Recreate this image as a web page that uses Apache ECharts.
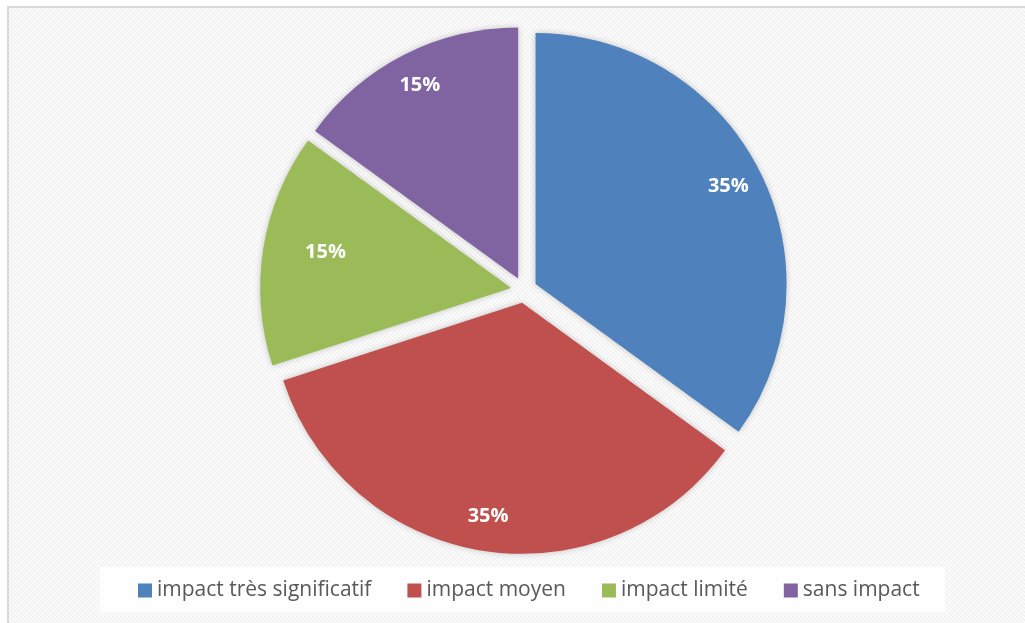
<!DOCTYPE html>
<html>
<head>
<meta charset="utf-8">
<script src="https://cdn.jsdelivr.net/npm/echarts@6/dist/echarts.min.js"></script>
<style>
  html, body { margin: 0; padding: 0; background: #ffffff; }
  #chart { width: 1025px; height: 623px; }
</style>
</head>
<body>
<div id="chart"></div>
<script>
// Categories and their shares (percent)
const categories = ['impact très significatif', 'impact moyen', 'impact limité', 'sans impact'];
const shares = [35, 35, 15, 15];
const sliceColors = ['#4F81BD', '#C0504D', '#9BBB59', '#8064A2'];

// Diagonal hatch used as the chart-area fill
function makeHatch() {
  const c = document.createElement('canvas');
  c.width = 8; c.height = 8;
  const ctx = c.getContext('2d');
  const img = ctx.createImageData(8, 8);
  for (let y = 0; y < 8; y++) {
    for (let x = 0; x < 8; x++) {
      const k = (((x - y) % 4) + 4) % 4;
      const v = k < 2 ? 241 : 253;
      const i = (y * 8 + x) * 4;
      img.data[i] = v; img.data[i + 1] = v; img.data[i + 2] = v; img.data[i + 3] = 255;
    }
  }
  ctx.putImageData(img, 0, 0);
  return c;
}

const chart = echarts.init(document.getElementById('chart'), null, { renderer: 'canvas' });

const R = 251;
const pieCenter = [524, 290];
const explode = 13;

const sliceData = categories.map((name, i) => ({
  name: name,
  value: shares[i],
  selected: true,
  itemStyle: { color: sliceColors[i] }
}));

const labelData = categories.map((name, i) => ({
  name: name,
  value: shares[i],
  selected: true
}));

// the narrow green slice keeps its label nearer the middle of the slice
const labelNudge = { 'impact limité': { dx: 28, dy: -2 } };

chart.setOption({
  backgroundColor: '#ffffff',
  animation: false,
  graphic: [
    {
      type: 'rect',
      z: -10,
      silent: true,
      shape: { x: 8, y: 7, width: 1030, height: 630 },
      style: {
        fill: { image: makeHatch(), repeat: 'repeat' },
        stroke: '#d9d9d9',
        lineWidth: 2
      }
    },
    {
      type: 'rect',
      z: -5,
      silent: true,
      shape: { x: 100, y: 567, width: 845, height: 45 },
      style: { fill: 'rgba(255,255,255,0.8)' }
    }
  ],
  legend: {
    data: categories,
    left: 133,
    top: 575,
    itemWidth: 14,
    itemHeight: 14,
    itemGap: 36,
    icon: 'rect',
    selectedMode: false,
    textStyle: { fontFamily: 'Open Sans', fontSize: 21, color: '#595959' }
  },
  series: [
    {
      type: 'pie',
      z: 2,
      center: pieCenter,
      radius: [0, R],
      startAngle: 90,
      clockwise: true,
      selectedMode: 'multiple',
      selectedOffset: explode,
      label: { show: false },
      labelLine: { show: false },
      emphasis: { scale: false },
      itemStyle: {
        shadowBlur: 6,
        shadowColor: 'rgba(0,0,0,0.22)'
      },
      data: sliceData
    },
    {
      // transparent ring that only carries the percentage labels
      type: 'pie',
      z: 5,
      silent: true,
      center: pieCenter,
      radius: [R * 0.7, R],
      startAngle: 90,
      clockwise: true,
      selectedMode: 'multiple',
      selectedOffset: explode,
      avoidLabelOverlap: false,
      itemStyle: { color: 'rgba(255,255,255,0)' },
      emphasis: { scale: false },
      labelLine: { show: false },
      label: {
        show: true,
        position: 'inside',
        formatter: '{c}%',
        color: '#ffffff',
        fontFamily: 'Open Sans',
        fontWeight: 'bold',
        fontSize: 20
      },
      labelLayout: function (params) {
        const name = categories[params.dataIndex];
        return labelNudge[name] || {};
      },
      data: labelData
    }
  ]
});
</script>
</body>
</html>
